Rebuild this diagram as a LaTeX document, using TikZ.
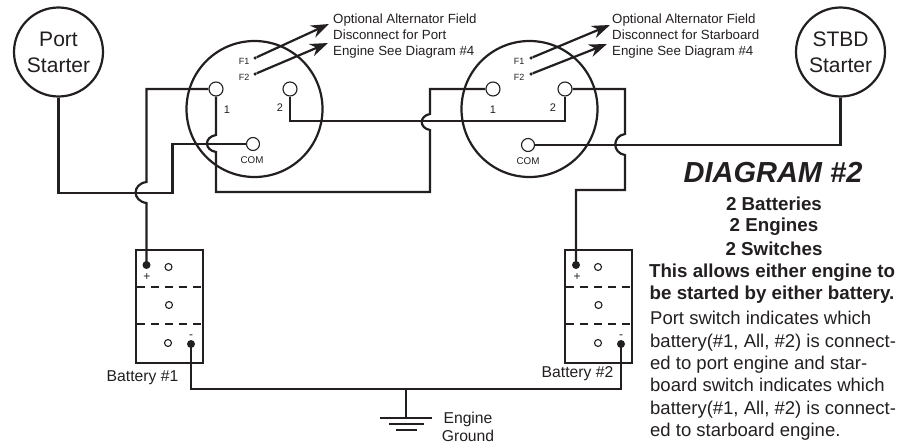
\documentclass[tikz,border=0pt]{standalone}
\usepackage{fontspec}
\setmainfont{Liberation Sans}
\usetikzlibrary{arrows.meta}
\definecolor{ink}{HTML}{231F20}
\tikzset{
  x=1pt,y=-1pt,
  wire/.style={line width=2.2pt,draw=ink,line join=miter},
  ring/.style={circle,draw=ink,line width=2.2pt,inner sep=0pt,fill=white},
  swring/.style={ring,minimum size=136pt},
  startring/.style={ring,minimum size=89pt,align=center,font=\fontsize{21}{26}\selectfont,text=ink},
  term/.style={circle,draw=ink,line width=1.1pt,fill=white,inner sep=0pt,minimum size=14pt},
  cell/.style={circle,draw=ink,line width=1.1pt,fill=white,inner sep=0pt,minimum size=7pt},
  post/.style={circle,fill=ink,inner sep=0pt,minimum size=8pt},
  fdot/.style={circle,fill=ink,inner sep=0pt,minimum size=3.5pt},
  tiny/.style={font=\fontsize{9}{10}\selectfont,text=ink,inner sep=0pt},
  comlab/.style={font=\fontsize{9.8}{10}\selectfont,text=ink,inner sep=0pt},
  numlab/.style={font=\fontsize{11}{12}\selectfont,text=ink,inner sep=0pt},
  note/.style={font=\fontsize{13.3}{16.2}\selectfont,text=ink,align=left,inner sep=0pt,anchor=north west},
  lab/.style={font=\fontsize{15.7}{18}\selectfont,text=ink,inner sep=0pt},
  arroww/.style={line width=2.2pt,draw=ink,-{Stealth[length=18pt,width=13pt]}},
  batbox/.style={draw=ink,line width=2.2pt,fill=none,minimum width=67pt,minimum height=113pt,inner sep=0pt},
  sep/.style={line width=2.2pt,draw=ink,dash pattern=on 8pt off 6pt},
  bold/.style={font=\fontsize{18.75}{22}\selectfont\bfseries,text=ink,inner sep=0pt}
}
\begin{document}
\begin{tikzpicture}
\useasboundingbox (0,0) rectangle (899,444);
% rings
\node[startring] (port) at (58.5,52) {Port\\Starter};
\node[startring] (stbd) at (840.5,52) {STBD\\Starter};
\node[swring] (sw1) at (254.5,109) {};
\node[swring] (sw2) at (529.5,109) {};
% batteries
\node[batbox] (bat1) at (169.5,306.5) {};
\node[batbox] (bat2) at (598.5,306.5) {};
\draw[sep] (137,287) -- (203,287);
\draw[sep] (137,324) -- (203,324);
\draw[sep] (566,287) -- (632,287);
\draw[sep] (566,324) -- (632,324);
% terminals
\node[term] (a1) at (216,89) {};
\node[term] (a2) at (290,89) {};
\node[term,minimum size=13pt] (ac) at (253,144) {};
\node[term] (b1) at (493,89) {};
\node[term] (b2) at (565,89) {};
\node[term,minimum size=13pt] (bc) at (528,145) {};
\node[post] (p1) at (146.5,265) {};
\node[post] (m1) at (191,344) {};
\node[post] (p2) at (576,265) {};
\node[post] (m2) at (621,344) {};
\node[cell] at (168.5,267) {};
\node[cell] at (169,305) {};
\node[cell] at (168,343) {};
\node[cell] at (598,267) {};
\node[cell] at (598.5,305) {};
\node[cell] at (598,343) {};
\node[fdot] (f1a) at (255,58) {};
\node[fdot] (f2a) at (255,74) {};
\node[fdot] (f1b) at (531,58) {};
\node[fdot] (f2b) at (531,74) {};
\coordinate (t1a) at (329,24);
\coordinate (t2a) at (328,43);
\coordinate (t1b) at (610,25);
\coordinate (t2b) at (607,44);
\draw[arroww] (f1a) -- (t1a);
\draw[arroww] (f2a) -- (t2a);
\draw[arroww] (f1b) -- (t1b);
\draw[arroww] (f2b) -- (t2b);
% wires
\draw[wire] (port.south) |- (172.5,193) |- (ac.west);
\draw[wire] (a1.west) -| (146.5,182) .. controls (132,184) and (132,201) .. (146.5,203) -- (p1.center);
\draw[wire] (a1.south) -- (216,135) .. controls (204,137) and (204,150) .. (216,152) -- (216,192) -- (430,192) -- (430,130) .. controls (419,128) and (419,116) .. (430,114) -- (430,89) -- (b1.west);
\draw[wire] (a2.south) |- (565,121) -- (b2.south);
\draw[wire] (b2.east) -- (625,89) -- (625,134) .. controls (612,136) and (612,153) .. (625,155) -- (625,190) -- (576,190) -- (p2.center);
\draw[wire] (bc.east) -- (840.5,145) -- (stbd.south);
\draw[wire] (m1.center) |- (621,389) -- (m2.center);
% ground
\coordinate (g) at (406,418);
\draw[wire] (406,389) -- (g);
\draw[wire] (380,418) -- (432,418);
\draw[wire] (389,424) -- (424,424);
\draw[wire] (396,430) -- (417,430);
% labels
\node[tiny] (lf1a) at (244,61) {F1};
\node[tiny] (lf2a) at (244,77) {F2};
\node[tiny] (lf1b) at (519,61) {F1};
\node[tiny] (lf2b) at (519,77) {F2};
\node[numlab] (n1a) at (227,110) {1};
\node[numlab] (n2a) at (280,108) {2};
\node[numlab] (n1b) at (493,110) {1};
\node[numlab] (n2b) at (553,108) {2};
\node[comlab] (cma) at (252,160) {COM};
\node[comlab] (cmb) at (528,161) {COM};
\node[note] (opt1) at (333,13.5) {Optional Alternator Field\\Disconnect for Port\\Engine See Diagram \#4};
\node[note] (opt2) at (612,13.5) {Optional Alternator Field\\Disconnect for Starboard\\Engine See Diagram \#4};
\node[tiny,font=\fontsize{12}{12}\selectfont] at (147,277) {+};
\node[tiny,font=\fontsize{12}{12}\selectfont] at (191,337) {-};
\node[tiny,font=\fontsize{12}{12}\selectfont] at (577,277) {+};
\node[tiny,font=\fontsize{12}{12}\selectfont] at (621,337) {-};
\node[lab] (lb1) at (142.5,378) {Battery \#1};
\node[lab] (lb2) at (577.5,374) {Battery \#2};
\node[lab] (eg) at (468,419) {Engine};
\node[lab] (eg2) at (468,435.5) {Ground};
\node[font=\fontsize{29}{32}\bfseries\itshape\selectfont,text=ink,inner sep=0pt] (title) at (773,173) {DIAGRAM \#2};
\node[bold] (b1l) at (774,204) {2 Batteries};
\node[bold] (b2l) at (774,227) {2 Engines};
\node[bold] (b3l) at (774,249) {2 Switches};
\node[bold,align=center] (b4l) at (772,284) {This allows either engine to\\be started by either battery.};
\node[font=\fontsize{18.5}{22.4}\selectfont,text=ink,align=left,inner sep=0pt,anchor=north west] (body) at (650,311) {Port switch indicates which\\battery(\#1, All, \#2) is connect-\\ed to port engine and star-\\board switch indicates which\\battery(\#1, All, \#2) is connect-\\ed to starboard engine.};
\end{tikzpicture}
\end{document}
